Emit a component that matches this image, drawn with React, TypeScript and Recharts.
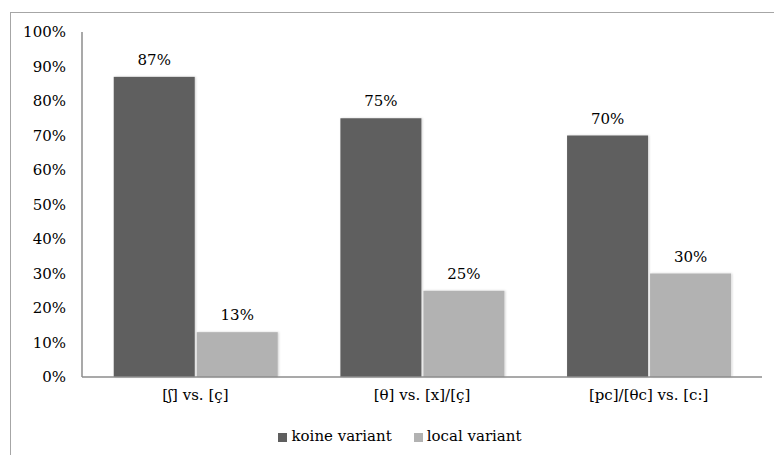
import { BarChart, Bar, XAxis, YAxis, Legend, LabelList } from "recharts";

const categories = ["[ʃ] vs. [ç]", "[θ] vs. [x]/[ç]", "[pc]/[θc] vs. [c:]"];
const koineValues = [87, 75, 70];
const localValues = [13, 25, 30];
const yTicks = [0, 10, 20, 30, 40, 50, 60, 70, 80, 90, 100];

const data = categories.map((name, i) => ({
  name,
  koine: koineValues[i],
  local: localValues[i],
}));

const FONT = "'DejaVu Serif', serif";
const pct = (v: number) => `${v}%`;

// bars in the original have a faint soft shadow round them
const ShadowBar = (props: any) => {
  const { x, y, width, height, fill } = props;
  if (!height || height <= 0) return null;
  return (
    <rect
      x={x}
      y={y}
      width={width}
      height={height}
      fill={fill}
      filter="url(#barShadow)"
    />
  );
};

export default function App() {
  return (
    <div
      style={{
        position: "absolute",
        left: 0,
        top: 0,
        width: 774,
        height: 455,
        overflow: "hidden",
        background: "#fff",
      }}
    >
      <div
        style={{
          position: "absolute",
          left: 10,
          top: 12,
          width: 800,
          height: 500,
          border: "1.5px solid #a6a6a6",
        }}
      />
      <div style={{ position: "absolute", left: 0, top: 0 }}>
        <BarChart
          width={774}
          height={455}
          data={data}
          margin={{ top: 32, right: 12, left: 0, bottom: 25 }}
          barCategoryGap="14%"
          barGap={2}
        >
          <defs>
            <filter id="barShadow" x="-10%" y="-10%" width="120%" height="120%">
              <feDropShadow dx="1" dy="0" stdDeviation="1.2" floodColor="#000" floodOpacity="0.18" />
            </filter>
          </defs>
          <XAxis
            dataKey="name"
            tickLine={false}
            tickSize={0}
            tickMargin={12}
            height={35}
            stroke="#8c8c8c"
            strokeWidth={1.5}
            tick={{ fill: "#000", fontSize: 15, fontFamily: FONT }}
          />
          <YAxis
            domain={[0, 100]}
            ticks={yTicks}
            tickFormatter={pct}
            width={82}
            tickLine={false}
            tickSize={0}
            tickMargin={16}
            stroke="#8c8c8c"
            strokeWidth={1.5}
            tick={{ fill: "#000", fontSize: 15, fontFamily: FONT }}
          />
          <Legend
            verticalAlign="bottom"
            align="center"
            iconType="square"
            iconSize={9}
            wrapperStyle={{
              fontFamily: FONT,
              fontSize: 15,
              color: "#000",
              bottom: 10,
              paddingLeft: 60,
              boxSizing: "border-box",
            }}
            formatter={(value) => (
              <span style={{ color: "#000", marginRight: 12 }}>{value}</span>
            )}
          />
          <Bar
            dataKey="koine"
            name="koine variant"
            fill="#5f5f5f"
            shape={ShadowBar}
            isAnimationActive={false}
          >
            <LabelList
              dataKey="koine"
              position="top"
              offset={12}
              formatter={pct}
              style={{ fill: "#000", fontSize: 15, fontFamily: FONT }}
            />
          </Bar>
          <Bar
            dataKey="local"
            name="local variant"
            fill="#b2b2b2"
            shape={ShadowBar}
            isAnimationActive={false}
          >
            <LabelList
              dataKey="local"
              position="top"
              offset={12}
              formatter={pct}
              style={{ fill: "#000", fontSize: 15, fontFamily: FONT }}
            />
          </Bar>
        </BarChart>
      </div>
    </div>
  );
}
